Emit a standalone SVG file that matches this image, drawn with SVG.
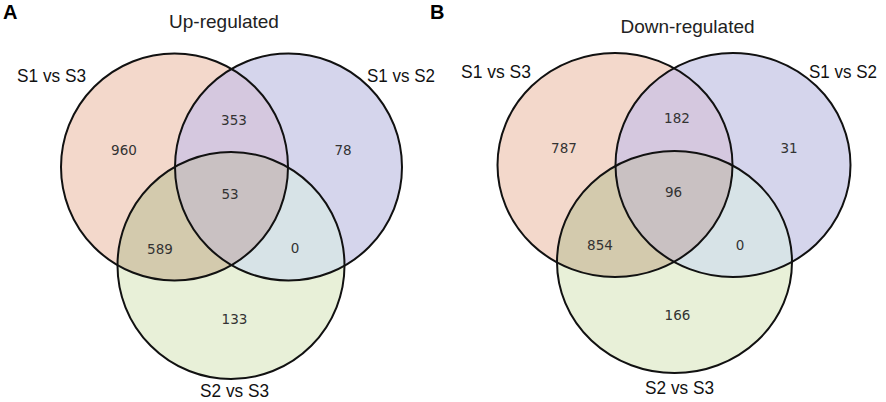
<svg xmlns="http://www.w3.org/2000/svg" width="886" height="402" viewBox="0 0 886 402">
<style>
.ol{fill:none;stroke:#111;stroke-width:2}
.num{font-family:"DejaVu Sans",sans-serif;font-size:13.5px;fill:#333;text-anchor:middle}
.lab{font-family:"Liberation Sans",Arial,sans-serif;font-size:18.5px;fill:#111}
.ttl{font-family:"Liberation Sans",Arial,sans-serif;font-size:19px;fill:#222;text-anchor:middle}
.pl{font-family:"Liberation Sans",Arial,sans-serif;font-size:20px;font-weight:bold;fill:#000}
.cL{fill:#F3D8CB}.cR{fill:#D5D5EC}.cB{fill:#E8F0D8}
.iLR{fill:#D5C8DF}.iLB{fill:#D3CAAD}.iRB{fill:#D7E3E7}.iAll{fill:#C9C1C2}
</style>
<defs>
<clipPath id="cA1"><circle cx="174.5" cy="167" r="113.5"/></clipPath>
<clipPath id="cA2"><circle cx="288.5" cy="167" r="113.5"/></clipPath>
<clipPath id="cA12"><circle cx="174.5" cy="167" r="113.5" clip-path="url(#cA2)"/></clipPath>
<clipPath id="cB1"><ellipse cx="615" cy="165" rx="117.5" ry="112"/></clipPath>
<clipPath id="cB2"><ellipse cx="733" cy="165" rx="117.5" ry="112"/></clipPath>
<clipPath id="cB12"><ellipse cx="615" cy="165" rx="117.5" ry="112" clip-path="url(#cB2)"/></clipPath>
</defs>

<text class="pl" x="3" y="19">A</text>
<text class="pl" x="430" y="19">B</text>

<!-- Panel A region fills -->
<g id="A-regions">
<circle class="cL" cx="174.5" cy="167" r="113.5"/>
<circle class="cR" cx="288.5" cy="167" r="113.5"/>
<circle class="cB" cx="231" cy="265.5" r="113.5"/>
<circle class="iLR" cx="288.5" cy="167" r="113.5" clip-path="url(#cA1)"/>
<circle class="iLB" cx="231" cy="265.5" r="113.5" clip-path="url(#cA1)"/>
<circle class="iRB" cx="231" cy="265.5" r="113.5" clip-path="url(#cA2)"/>
<circle class="iAll" cx="231" cy="265.5" r="113.5" clip-path="url(#cA12)"/>
</g>
<text class="ttl" x="224" y="28">Up-regulated</text>
<g id="A-S1vsS3">
<circle class="ol" cx="174.5" cy="167" r="113.5"/>
<text class="lab" x="17" y="82" textLength="69" lengthAdjust="spacingAndGlyphs">S1 vs S3</text>
</g>
<g id="A-S1vsS2">
<circle class="ol" cx="288.5" cy="167" r="113.5"/>
<text class="lab" x="367" y="82" textLength="68" lengthAdjust="spacingAndGlyphs">S1 vs S2</text>
</g>
<g id="A-S2vsS3">
<circle class="ol" cx="231" cy="265.5" r="113.5"/>
<text class="lab" x="200" y="397" textLength="69" lengthAdjust="spacingAndGlyphs">S2 vs S3</text>
</g>
<g id="A-counts">
<text class="num" x="124" y="155">960</text>
<text class="num" x="234" y="125">353</text>
<text class="num" x="343" y="155">78</text>
<text class="num" x="230" y="199">53</text>
<text class="num" x="160" y="254">589</text>
<text class="num" x="295" y="253">0</text>
<text class="num" x="234.5" y="324">133</text>
</g>

<!-- Panel B region fills -->
<g id="B-regions">
<ellipse class="cL" cx="615" cy="165" rx="117.5" ry="112"/>
<ellipse class="cR" cx="733" cy="165" rx="117.5" ry="112"/>
<ellipse class="cB" cx="674.5" cy="262" rx="117.5" ry="111"/>
<ellipse class="iLR" cx="733" cy="165" rx="117.5" ry="112" clip-path="url(#cB1)"/>
<ellipse class="iLB" cx="674.5" cy="262" rx="117.5" ry="111" clip-path="url(#cB1)"/>
<ellipse class="iRB" cx="674.5" cy="262" rx="117.5" ry="111" clip-path="url(#cB2)"/>
<ellipse class="iAll" cx="674.5" cy="262" rx="117.5" ry="111" clip-path="url(#cB12)"/>
</g>
<text class="ttl" x="687.5" y="33">Down-regulated</text>
<g id="B-S1vsS3">
<ellipse class="ol" cx="615" cy="165" rx="117.5" ry="112"/>
<text class="lab" x="461" y="78" textLength="70" lengthAdjust="spacingAndGlyphs">S1 vs S3</text>
</g>
<g id="B-S1vsS2">
<ellipse class="ol" cx="733" cy="165" rx="117.5" ry="112"/>
<text class="lab" x="809" y="78" textLength="68" lengthAdjust="spacingAndGlyphs">S1 vs S2</text>
</g>
<g id="B-S2vsS3">
<ellipse class="ol" cx="674.5" cy="262" rx="117.5" ry="111"/>
<text class="lab" x="645" y="394" textLength="69" lengthAdjust="spacingAndGlyphs">S2 vs S3</text>
</g>
<g id="B-counts">
<text class="num" x="564" y="153">787</text>
<text class="num" x="677" y="123">182</text>
<text class="num" x="789" y="153">31</text>
<text class="num" x="673.5" y="197">96</text>
<text class="num" x="600" y="250">854</text>
<text class="num" x="740" y="250">0</text>
<text class="num" x="677.5" y="320">166</text>
</g>
<g id="connectors"/>
</svg>
